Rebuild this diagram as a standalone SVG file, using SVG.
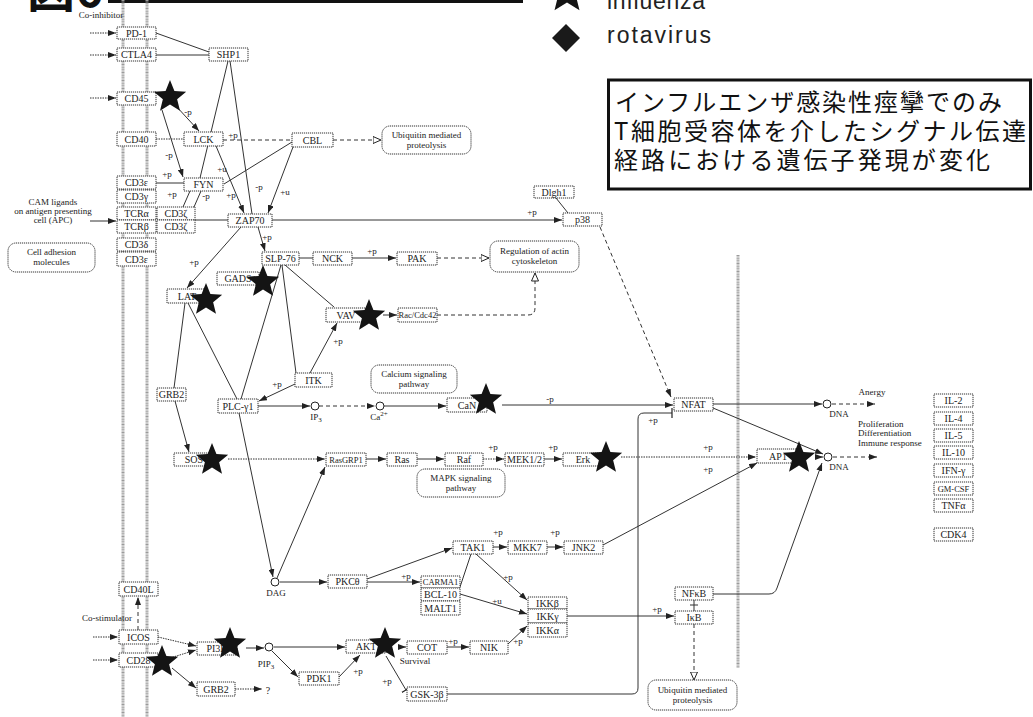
<svg xmlns="http://www.w3.org/2000/svg" width="1033" height="717" viewBox="0 0 1033 717">
<style>
.n rect{fill:#fff;stroke:#333;stroke-width:1;stroke-dasharray:1.2 0.8}
.r{fill:#fff;stroke:#333;stroke-width:1;stroke-dasharray:1.2 0.8}
text{font-family:"Liberation Serif",serif;fill:#222}
.nt{font-size:10px;text-anchor:middle}
.st{font-size:8.5px;text-anchor:middle}
.lb{font-size:9px;text-anchor:middle}
.c path{fill:none;stroke:#333;stroke-width:1}
.c .dt{stroke-dasharray:1.5 1}
.c .ds{stroke-dasharray:4 3}
.mem{stroke:#9a9a9a;stroke-width:3;stroke-dasharray:1 0.6}
.circ{fill:#fff;stroke:#222;stroke-width:1}
.star{fill:#141414}
.jp{font-family:"Noto Sans CJK JP",sans-serif;font-size:24px;fill:#111}
</style>
<defs>
<marker id="a" viewBox="0 0 8 6" refX="8" refY="3" markerWidth="8" markerHeight="6" orient="auto" markerUnits="userSpaceOnUse"><path d="M0,0 L8,3 L0,6 Z" fill="#222"/></marker>
<marker id="o" viewBox="0 0 9 8" refX="8.5" refY="4" markerWidth="9" markerHeight="8" orient="auto" markerUnits="userSpaceOnUse"><path d="M0.5,0.5 L8.5,4 L0.5,7.5 Z" fill="#fff" stroke="#222" stroke-width="1"/></marker>
<marker id="t" viewBox="0 0 2 10" refX="1" refY="5" markerWidth="2" markerHeight="10" orient="auto" markerUnits="userSpaceOnUse"><path d="M1,0 V10" stroke="#222" stroke-width="1.2"/></marker>
<path id="star" d="M0,-17 L4.41,-6.07 L16.17,-5.25 L7.13,2.32 L9.99,13.75 L0,7.5 L-9.99,13.75 L-7.13,2.32 L-16.17,-5.25 L-4.41,-6.07 Z"/>
</defs>
<rect width="1033" height="717" fill="#fff"/>

<!-- header fragments -->
<text x="27" y="7" style="font-family:'Noto Sans CJK JP',sans-serif;font-size:48px;font-weight:bold;fill:#111">図6</text>
<rect x="108" y="0" width="415" height="3" fill="#111"/>
<use href="#star" transform="translate(567,-7) scale(1.25)" class="star"/>
<text x="607" y="9" style="font-family:'Liberation Sans',sans-serif;font-size:23px;fill:#222" textLength="98">influenza</text>
<path d="M566,24 L580,38 L566,52 L552,38 Z" fill="#1a1a1a"/>
<text x="607" y="43" style="font-family:'Liberation Sans',sans-serif;font-size:23px;fill:#222" textLength="104">rotavirus</text>
<rect x="608.5" y="80" width="422" height="109" fill="#fff" stroke="#111" stroke-width="3"/>
<text class="jp" x="615" y="111" textLength="387">インフルエンザ感染性痙攣でのみ</text>
<text class="jp" x="614" y="140" textLength="412">T細胞受容体を介したシグナル伝達</text>
<text class="jp" x="614" y="169" textLength="376">経路における遺伝子発現が変化</text>

<!-- membranes -->
<line class="mem" x1="123" y1="0" x2="123" y2="717"/>
<line class="mem" x1="147" y1="0" x2="147" y2="717"/>
<line class="mem" x1="738" y1="255" x2="738" y2="668"/>

<g id="connectors" class="c">
<path class="dt" d="M90,33 H116" marker-end="url(#a)"/>
<path class="dt" d="M90,55 H116" marker-end="url(#a)"/>
<path class="dt" d="M90,98 H116" marker-end="url(#a)"/>
<path d="M90,221 H116" marker-end="url(#a)"/>
<path class="dt" d="M93,637 H118" marker-end="url(#a)"/>
<path class="dt" d="M93,660 H118" marker-end="url(#a)"/>
<path d="M156,33 L209,52"/>
<path d="M156,55 H209"/>
<path d="M228,61 L200,178"/>
<path d="M230,61 L252,214"/>
<path d="M176,106 L199,131" marker-end="url(#a)"/>
<path d="M162,110 L183,177" marker-end="url(#a)"/>
<path class="dt" d="M156,139 H184"/>
<path class="ds" d="M223,140 H292"/>
<path d="M216,146 L244,213" marker-end="url(#a)"/>
<path d="M156,183 H184"/>
<path d="M224,184 L292,142"/>
<path d="M293,147 L268,213" marker-end="url(#a)"/>
<path d="M190,191 L183,207"/>
<path d="M201,191 L194,207"/>
<path d="M195,220 H228"/>
<path d="M272,220 H562" marker-end="url(#a)"/>
<path d="M556,198 L568,213"/>
<path class="ds" d="M600,227 L671,397" marker-end="url(#a)"/>
<path class="ds" d="M333,140 H381" marker-end="url(#o)"/>
<path d="M241,227 L187,288" marker-end="url(#a)"/>
<path d="M258,227 L265,251" marker-end="url(#a)"/>
<path d="M299,258 H313"/>
<path d="M352,258 H396" marker-end="url(#a)"/>
<path class="ds" d="M437,258 H489" marker-end="url(#o)"/>
<path d="M285,265 L334,307"/>
<path d="M282,265 L296,373"/>
<path d="M281,265 L241,399"/>
<path d="M310,373 L337,323" marker-end="url(#a)"/>
<path d="M295,384 L259,401" marker-end="url(#a)"/>
<path d="M383,315 H397" marker-end="url(#a)"/>
<path class="ds" d="M437,315 H528 Q535,315 535,308 V273" marker-end="url(#o)"/>
<path d="M185,303 L174,388"/>
<path d="M188,303 L237,399"/>
<path d="M175,401 L189,452" marker-end="url(#a)"/>
<path d="M258,406 H310" marker-end="url(#a)"/>
<path class="ds" d="M319,406 H375" marker-end="url(#a)"/>
<path d="M384,406 H446" marker-end="url(#a)"/>
<path d="M502,405 H673" marker-end="url(#a)"/>
<path d="M239,413 L273,577" marker-end="url(#a)"/>
<path d="M277,578 L325,467" marker-end="url(#a)"/>
<path class="dt" d="M228,459 H325" marker-end="url(#a)"/>
<path d="M366,459 H386" marker-end="url(#a)"/>
<path d="M417,459 H444" marker-end="url(#a)"/>
<path class="dt" d="M483,459 H504" marker-end="url(#a)"/>
<path d="M544,459 H562" marker-end="url(#a)"/>
<path class="dt" d="M621,457 H756" marker-end="url(#a)"/>
<path d="M713,404 H822" marker-end="url(#a)"/>
<path class="ds" d="M832,404 H875" marker-end="url(#a)"/>
<path d="M713,408 L823,454" marker-end="url(#a)"/>
<path d="M815,457 H823" marker-end="url(#a)"/>
<path class="ds" d="M833,457 H877" marker-end="url(#a)"/>
<path d="M713,594 H769 Q775,594 777,588 L822,463" marker-end="url(#a)"/>
<path d="M603,545 L757,463" marker-end="url(#a)"/>
<path d="M447,694 H632 Q638,694 638,688 V419 Q638,413 644,413 H672" marker-end="url(#t)"/>
<path d="M280,582 H327" marker-end="url(#a)"/>
<path d="M367,579 L452,548" marker-end="url(#a)"/>
<path d="M367,582 H420" marker-end="url(#a)"/>
<path d="M493,547 H507" marker-end="url(#a)"/>
<path d="M547,547 H563" marker-end="url(#a)"/>
<path d="M471,554 L460,587"/>
<path d="M476,554 L527,600" marker-end="url(#a)"/>
<path d="M460,594 L527,614" marker-end="url(#a)"/>
<path d="M508,644 L527,626" marker-end="url(#a)"/>
<path d="M567,616 H674" marker-end="url(#a)"/>
<path d="M694,600 V611 M690,605 H698"/>
<path class="ds" d="M694,624 V680" marker-end="url(#o)"/>
<path class="ds" d="M138,630 V597" marker-end="url(#a)"/>
<path class="dt" d="M158,637 L196,646" marker-end="url(#a)"/>
<path class="dt" d="M170,658 L196,650" marker-end="url(#a)"/>
<path d="M172,668 L196,688" marker-end="url(#a)"/>
<path class="dt" d="M235,689 H262" marker-end="url(#a)"/>
<path d="M246,648 H264" marker-end="url(#a)"/>
<path d="M274,647 H345" marker-end="url(#a)"/>
<path d="M272,651 L298,677" marker-end="url(#a)"/>
<path d="M339,677 L360,655" marker-end="url(#a)"/>
<path d="M400,647 H406" marker-end="url(#a)"/>
<path d="M447,647 H469" marker-end="url(#a)"/>
<path d="M386,656 L406,690" marker-end="url(#t)"/>
</g>

<g id="PD-1" class="n"><rect x="117" y="27" width="39" height="12"/><text class="nt" x="136.5" y="36.5">PD-1</text></g>
<g id="CTLA4" class="n"><rect x="117" y="48" width="39" height="13"/><text class="nt" x="136.5" y="58">CTLA4</text></g>
<g id="SHP1" class="n"><rect x="209" y="48" width="39" height="13"/><text class="nt" x="228.5" y="58">SHP1</text></g>
<g id="CD45" class="n"><rect x="117" y="92" width="39" height="13"/><text class="nt" x="136.5" y="102">CD45</text></g>
<g id="LCK" class="n"><rect x="184" y="132" width="39" height="14"/><text class="nt" x="203.5" y="142.5">LCK</text></g>
<g id="CD40" class="n"><rect x="117" y="132" width="39" height="14"/><text class="nt" x="136.5" y="142.5">CD40</text></g>
<g id="CD3e-1" class="n"><rect x="117" y="176" width="39" height="13"/><text class="nt" x="136.5" y="186">CD3ε</text></g>
<g id="CD3g" class="n"><rect x="117" y="190" width="39" height="13"/><text class="nt" x="136.5" y="200">CD3γ</text></g>
<g id="FYN" class="n"><rect x="184" y="178" width="39" height="13"/><text class="nt" x="203.5" y="188">FYN</text></g>
<g id="TCRa" class="n"><rect x="117" y="207" width="39" height="13"/><text class="nt" x="136.5" y="217">TCRα</text></g>
<g id="TCRb" class="n"><rect x="117" y="220" width="39" height="13"/><text class="nt" x="136.5" y="230">TCRβ</text></g>
<g id="CD3z-1" class="n"><rect x="157" y="207" width="38" height="13"/><text class="nt" x="176" y="217">CD3ζ</text></g>
<g id="CD3z-2" class="n"><rect x="157" y="220" width="38" height="13"/><text class="nt" x="176" y="230">CD3ζ</text></g>
<g id="CD3d" class="n"><rect x="117" y="238" width="39" height="13"/><text class="nt" x="136.5" y="248">CD3δ</text></g>
<g id="CD3e-2" class="n"><rect x="117" y="252" width="39" height="14"/><text class="nt" x="136.5" y="262.5">CD3ε</text></g>
<g id="ZAP70" class="n"><rect x="228" y="214" width="44" height="13"/><text class="nt" x="250" y="224">ZAP70</text></g>
<g id="CBL" class="n"><rect x="292" y="133" width="41" height="14"/><text class="nt" x="312.5" y="143.5">CBL</text></g>
<g id="Dlgh1" class="n"><rect x="534" y="186" width="40" height="12"/><text class="nt" x="554" y="195.5">Dlgh1</text></g>
<g id="p38" class="n"><rect x="563" y="213" width="39" height="13"/><text class="nt" x="582.5" y="223">p38</text></g>
<g id="SLP-76" class="n"><rect x="262" y="252" width="37" height="13"/><text class="nt" x="280.5" y="262">SLP-76</text></g>
<g id="GADS" class="n"><rect x="217" y="272" width="42" height="13"/><text class="nt" x="238" y="282">GADS</text></g>
<g id="LAT" class="n"><rect x="167" y="289" width="40" height="14"/><text class="nt" x="187" y="299.5">LAT</text></g>
<g id="NCK" class="n"><rect x="313" y="252" width="39" height="13"/><text class="nt" x="332.5" y="262">NCK</text></g>
<g id="PAK" class="n"><rect x="397" y="252" width="40" height="13"/><text class="nt" x="417" y="262">PAK</text></g>
<g id="VAV" class="n"><rect x="326" y="308" width="40" height="14"/><text class="nt" x="346" y="318.5">VAV</text></g>
<g id="Rac" class="n"><rect x="398" y="308" width="39" height="14"/><text class="st" x="417.5" y="318">Rac/Cdc42</text></g>
<g id="ITK" class="n"><rect x="295" y="373" width="37" height="14"/><text class="nt" x="313.5" y="383.5">ITK</text></g>
<g id="GRB2" class="n"><rect x="157" y="388" width="29" height="13"/><text class="nt" x="171.5" y="398">GRB2</text></g>
<g id="PLC" class="n"><rect x="218" y="399" width="40" height="14"/><text class="nt" x="238" y="409.5">PLC-γ1</text></g>
<g id="CaN" class="n"><rect x="447" y="398" width="40" height="14"/><text class="nt" x="467" y="408.5">CaN</text></g>
<g id="NFAT" class="n"><rect x="674" y="398" width="39" height="13"/><text class="nt" x="693.5" y="408">NFAT</text></g>
<g id="SOS" class="n"><rect x="174" y="453" width="40" height="13"/><text class="nt" x="194" y="463">SOS</text></g>
<g id="RasGRP1" class="n"><rect x="326" y="453" width="40" height="13"/><text class="st" x="346" y="462.5">RasGRP1</text></g>
<g id="Ras" class="n"><rect x="387" y="453" width="30" height="13"/><text class="nt" x="402" y="463">Ras</text></g>
<g id="Raf" class="n"><rect x="445" y="453" width="38" height="13"/><text class="nt" x="464" y="463">Raf</text></g>
<g id="MEK" class="n"><rect x="505" y="453" width="39" height="13"/><text class="nt" x="524.5" y="463">MEK1/2</text></g>
<g id="Erk" class="n"><rect x="563" y="453" width="40" height="13"/><text class="nt" x="583" y="463">Erk</text></g>
<g id="AP1" class="n"><rect x="757" y="449" width="42" height="14"/><text class="nt" x="778" y="459.5">AP1</text></g>
<g id="IL-2" class="n"><rect x="934" y="394" width="39" height="13"/><text class="nt" x="953.5" y="404">IL-2</text></g>
<g id="IL-4" class="n"><rect x="934" y="412" width="39" height="13"/><text class="nt" x="953.5" y="422">IL-4</text></g>
<g id="IL-5" class="n"><rect x="934" y="429" width="39" height="13"/><text class="nt" x="953.5" y="439">IL-5</text></g>
<g id="IL-10" class="n"><rect x="934" y="446" width="39" height="13"/><text class="nt" x="953.5" y="456">IL-10</text></g>
<g id="IFN-g" class="n"><rect x="934" y="464" width="39" height="13"/><text class="nt" x="953.5" y="474">IFN-γ</text></g>
<g id="GM-CSF" class="n"><rect x="934" y="482" width="39" height="13"/><text class="st" x="953.5" y="491.5">GM-CSF</text></g>
<g id="TNFa" class="n"><rect x="934" y="499" width="39" height="13"/><text class="nt" x="953.5" y="509">TNFα</text></g>
<g id="CDK4" class="n"><rect x="934" y="528" width="39" height="13"/><text class="nt" x="953.5" y="538">CDK4</text></g>
<g id="TAK1" class="n"><rect x="453" y="541" width="40" height="13"/><text class="nt" x="473" y="551">TAK1</text></g>
<g id="MKK7" class="n"><rect x="508" y="541" width="39" height="13"/><text class="nt" x="527.5" y="551">MKK7</text></g>
<g id="JNK2" class="n"><rect x="564" y="541" width="39" height="13"/><text class="nt" x="583.5" y="551">JNK2</text></g>
<g id="PKCt" class="n"><rect x="328" y="575" width="39" height="13"/><text class="nt" x="347.5" y="585">PKCθ</text></g>
<g id="CARMA1" class="n"><rect x="421" y="576" width="39" height="12"/><text class="st" x="440.5" y="585">CARMA1</text></g>
<g id="BCL-10" class="n"><rect x="421" y="588" width="39" height="13"/><text class="nt" x="440.5" y="598">BCL-10</text></g>
<g id="MALT1" class="n"><rect x="421" y="601" width="39" height="14"/><text class="nt" x="440.5" y="611.5">MALT1</text></g>
<g id="IKKb" class="n"><rect x="528" y="597" width="39" height="12"/><text class="nt" x="547.5" y="606.5">IKKβ</text></g>
<g id="IKKg" class="n"><rect x="528" y="609" width="39" height="14"/><text class="nt" x="547.5" y="619.5">IKKγ</text></g>
<g id="IKKa" class="n"><rect x="528" y="623" width="39" height="14"/><text class="nt" x="547.5" y="633.5">IKKα</text></g>
<g id="NFkB" class="n"><rect x="675" y="587" width="38" height="13"/><text class="nt" x="694" y="597">NFκB</text></g>
<g id="IkB" class="n"><rect x="675" y="611" width="38" height="13"/><text class="nt" x="694" y="621">IκB</text></g>
<g id="CD40L" class="n"><rect x="119" y="582" width="39" height="14"/><text class="nt" x="138.5" y="592.5">CD40L</text></g>
<g id="ICOS" class="n"><rect x="119" y="630" width="39" height="14"/><text class="nt" x="138.5" y="640.5">ICOS</text></g>
<g id="CD28" class="n"><rect x="119" y="653" width="39" height="14"/><text class="nt" x="138.5" y="663.5">CD28</text></g>
<g id="PI3K" class="n"><rect x="197" y="642" width="40" height="13"/><text class="nt" x="217" y="652">PI3K</text></g>
<g id="GRB2-b" class="n"><rect x="197" y="682" width="38" height="14"/><text class="nt" x="216" y="692.5">GRB2</text></g>
<g id="AKT" class="n"><rect x="346" y="640" width="40" height="13"/><text class="nt" x="366" y="650">AKT</text></g>
<g id="PDK1" class="n"><rect x="299" y="672" width="40" height="13"/><text class="nt" x="319" y="682">PDK1</text></g>
<g id="COT" class="n"><rect x="407" y="641" width="40" height="13"/><text class="nt" x="427" y="651">COT</text></g>
<g id="NIK" class="n"><rect x="470" y="641" width="38" height="13"/><text class="nt" x="489" y="651">NIK</text></g>
<g id="GSK" class="n"><rect x="407" y="687" width="40" height="14"/><text class="nt" x="427" y="697.5">GSK-3β</text></g>

<g id="ubq1"><rect class="r" x="382" y="126" width="89" height="28" rx="8"/><text class="lb" x="426.5" y="138">Ubiquitin mediated</text><text class="lb" x="426.5" y="148">proteolysis</text></g>
<g id="actin"><rect class="r" x="490" y="241" width="89" height="31" rx="8"/><text class="lb" x="534.5" y="254">Regulation of actin</text><text class="lb" x="534.5" y="264">cytoskeleton</text></g>
<g id="cam"><rect class="r" x="8" y="243" width="87" height="29" rx="8"/><text class="lb" x="51.5" y="255">Cell adhesion</text><text class="lb" x="51.5" y="265">molecules</text></g>
<g id="calcium"><rect class="r" x="371" y="365" width="86" height="28" rx="8"/><text class="lb" x="414" y="377">Calcium signaling</text><text class="lb" x="414" y="387">pathway</text></g>
<g id="mapk"><rect class="r" x="417" y="469" width="88" height="28" rx="8"/><text class="lb" x="461" y="481">MAPK signaling</text><text class="lb" x="461" y="491">pathway</text></g>
<g id="ubq2"><rect class="r" x="648" y="680" width="89" height="30" rx="8"/><text class="lb" x="692.5" y="693">Ubiquitin mediated</text><text class="lb" x="692.5" y="703">proteolysis</text></g>

<g id="IP3"><circle class="circ" cx="315" cy="406" r="4"/><text class="lb" x="316" y="420">IP<tspan font-size="7" dy="2">3</tspan></text></g>
<g id="Ca"><circle class="circ" cx="380" cy="406" r="4"/><text class="lb" x="379" y="420">Ca<tspan font-size="7" dy="-4">2+</tspan></text></g>
<g id="DNA1"><circle class="circ" cx="827" cy="404" r="4"/><text class="lb" x="839" y="417">DNA</text></g>
<g id="DNA2"><circle class="circ" cx="828" cy="457" r="4"/><text class="lb" x="839" y="470">DNA</text></g>
<g id="DAG"><circle class="circ" cx="275" cy="582" r="4"/><text class="lb" x="276" y="596">DAG</text></g>
<g id="PIP3"><circle class="circ" cx="269" cy="647" r="4"/><text class="lb" x="266" y="667">PIP<tspan font-size="7" dy="2">3</tspan></text></g>

<g class="star">
<use href="#star" x="170" y="97"/>
<use href="#star" x="206" y="300"/>
<use href="#star" x="263" y="282"/>
<use href="#star" x="369" y="316"/>
<use href="#star" x="486" y="400"/>
<use href="#star" x="212" y="460"/>
<use href="#star" x="606" y="458"/>
<use href="#star" x="799" y="458"/>
<use href="#star" x="230" y="644"/>
<use href="#star" x="162" y="662"/>
<use href="#star" x="385" y="644"/>
</g>

<g class="lb">
<text x="101" y="18">Co-inhibitor</text>
<text x="107" y="621">Co-stimulator</text>
<text x="53" y="205">CAM ligands</text>
<text x="53" y="214">on antigen presenting</text>
<text x="53" y="223">cell (APC)</text>
<text x="872" y="395">Anergy</text>
<text x="268" y="694" style="font-size:10px">?</text>
<text x="415" y="664">Survival</text>
</g>
<g style="font-family:'Liberation Serif',serif;font-size:9px">
<text x="858" y="427">Proliferation</text>
<text x="858" y="436">Differentiation</text>
<text x="858" y="446">Immune response</text>
</g>
<g class="lb">
<text x="188" y="115">-p</text>
<text x="233" y="138">+p</text>
<text x="169" y="158">-p</text>
<text x="167" y="177">+p</text>
<text x="222" y="172">+u</text>
<text x="172" y="197">+p</text>
<text x="206" y="199">-p</text>
<text x="231" y="198">+p</text>
<text x="259" y="190">-p</text>
<text x="285" y="195">+u</text>
<text x="267" y="240">+p</text>
<text x="532" y="215">+p</text>
<text x="194" y="265">+p</text>
<text x="372" y="254">+p</text>
<text x="338" y="344">+p</text>
<text x="277" y="387">+p</text>
<text x="550" y="402">-p</text>
<text x="653" y="423">+p</text>
<text x="493" y="450">+p</text>
<text x="553" y="450">+p</text>
<text x="708" y="450">+p</text>
<text x="708" y="472">+p</text>
<text x="498" y="535">+p</text>
<text x="555" y="535">+p</text>
<text x="406" y="579">+p</text>
<text x="508" y="580">+p</text>
<text x="497" y="604">+u</text>
<text x="518" y="644">+p</text>
<text x="657" y="612">+p</text>
<text x="453" y="644">+p</text>
<text x="358" y="674">+p</text>
<text x="387" y="684">+p</text>
</g>
</svg>
